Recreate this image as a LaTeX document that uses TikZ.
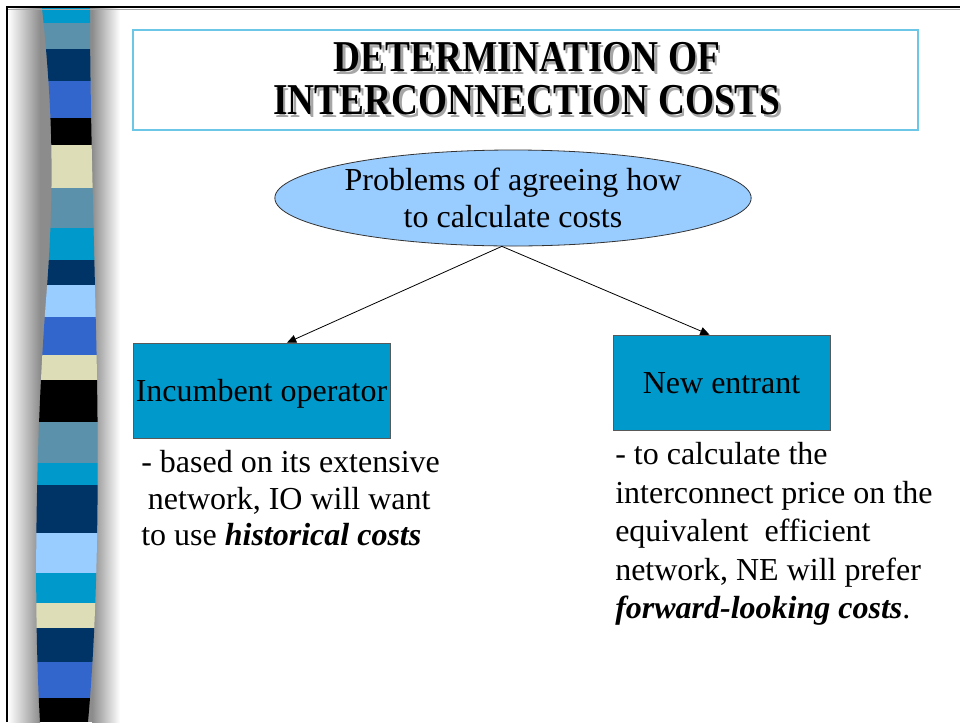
\documentclass[tikz,border=0pt]{standalone}
\usepackage{fontspec}
\setmainfont{Liberation Serif}
\usepackage{graphicx}
\usepackage{tikz}
\usetikzlibrary{shapes.geometric,arrows.meta}

\definecolor{stripecyan}{HTML}{0099CC}
\definecolor{stripesteel}{HTML}{5B91AA}
\definecolor{stripenavy}{HTML}{003366}
\definecolor{striperoyal}{HTML}{3366CC}
\definecolor{stripebeige}{HTML}{DDDDB8}
\definecolor{stripesky}{HTML}{99CCFF}
\definecolor{titleframe}{HTML}{6CC6E6}

\newcommand{\titlelines}{\begin{tabular}{@{}c@{}}DETERMINATION OF\\INTERCONNECTION COSTS\end{tabular}}
\newcommand{\titletext}{\scalebox{1}[1.18]{\rlap{\hspace{1.8pt}\raisebox{-1.5pt}{\color{black!35}\titlelines}}\titlelines}}

\begin{document}
\begin{tikzpicture}[x=0.75pt,y=-0.75pt,
  box/.style={draw=black!65,fill=stripecyan,inner sep=1pt,text height=17pt,text depth=0pt,
    font=\fontsize{24}{28}\selectfont},
  note/.style={anchor=north west,align=left,inner sep=0pt},
  heading/.style={inner sep=0pt,font=\fontsize{28}{27.3}\selectfont\bfseries},
  link/.style={-{Triangle[length=7pt,width=6pt]},line width=0.6pt}]
\useasboundingbox (0,0) rectangle (960,722);

% side band
\fill[black!45] (38,8) rectangle (98,722);
\shade[left color=white,right color=black!45] (8,8) rectangle (40,722);
\shade[left color=black!45,right color=white] (92,8) rectangle (120,722);
\begin{scope}
\clip (42,8) .. controls (54,120) and (54,200) .. (46,300)
  .. controls (36,430) and (33,600) .. (40,722) -- (88,722)
  .. controls (99,600) and (99,450) .. (96,330)
  .. controls (93,200) and (90,100) .. (90,8) -- cycle;
\foreach \ya/\yb/\col in {8/23/stripecyan,23/49/stripesteel,49/81/stripenavy,
  81/118/striperoyal,118/145/black,145/188/stripebeige,188/228/stripesteel,
  228/260/stripecyan,260/285/stripenavy,285/317/stripesky,317/355/striperoyal,
  355/380/stripebeige,380/422/black,422/463/stripesteel,463/485/stripecyan,
  485/533/stripenavy,533/573/stripesky,573/603/stripecyan,603/628/stripebeige,
  628/662/stripenavy,662/698/striperoyal,698/722/black}
  \fill[\col] (30,\ya) rectangle (110,\yb);
\end{scope}

\draw[black!35,line width=0.8pt] (8,9.6) -- (960,9.6);
\draw[line width=1.6pt] (7,722) -- (7,7.2) -- (960,7.2);

% title
\draw[titleframe,line width=1.2pt] (133,30) rectangle (918,130);
\node[heading] (title) at (527,86) {\titletext};

\node[ellipse,draw=black!80,line width=0.6pt,fill=stripesky,minimum width=355pt,minimum height=72pt,
  inner sep=0pt,align=center,font=\fontsize{24}{28.3}\selectfont] (problem) at (513,198)
  {Problems of agreeing how\\to calculate costs};

\node[box,minimum width=192.75pt,minimum height=71.25pt] (incumbent) at (261.5,390.5) {Incumbent operator};
\node[box,minimum width=162.75pt,minimum height=71.25pt] (entrant) at (721.5,382.5) {New entrant};

\draw[link] (problem.257) -- (incumbent.62);
\draw[link] (problem.257) -- (entrant.104);

\node[note,font=\fontsize{24}{27.5}\selectfont] (incumbentnote) at (141,450)
  {- based on its extensive\\\hspace*{5pt}network, IO will want\\to use \textbf{\textit{historical costs}}};
\node[note,font=\fontsize{24}{28.9}\selectfont] (entrantnote) at (615,442)
  {- to calculate the\\interconnect price on the\\equivalent\ \ efficient\\network, NE will prefer\\\textbf{\textit{forward-looking costs}}.};
\end{tikzpicture}
\end{document}
